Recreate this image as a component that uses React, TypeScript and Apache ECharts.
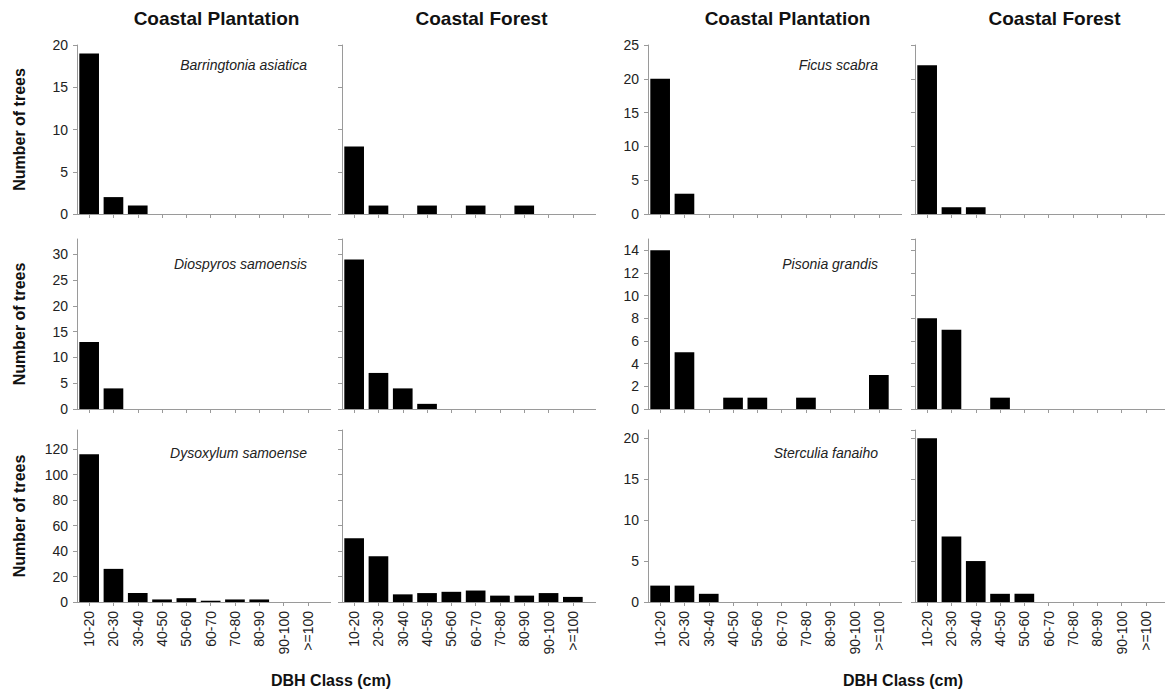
import React, { useEffect, useRef } from "react";
import * as echarts from "echarts";

const categories = ["10-20", "20-30", "30-40", "40-50", "50-60", "60-70", "70-80", "80-90", "90-100", ">=100"];

const barringtoniaPlantation = [19, 2, 1, 0, 0, 0, 0, 0, 0, 0];
const barringtoniaForest = [8, 1, 0, 1, 0, 1, 0, 1, 0, 0];
const ficusPlantation = [20, 3, 0, 0, 0, 0, 0, 0, 0, 0];
const ficusForest = [22, 1, 1, 0, 0, 0, 0, 0, 0, 0];
const diospyrosPlantation = [13, 4, 0, 0, 0, 0, 0, 0, 0, 0];
const diospyrosForest = [29, 7, 4, 1, 0, 0, 0, 0, 0, 0];
const pisoniaPlantation = [14, 5, 0, 1, 1, 0, 1, 0, 0, 3];
const pisoniaForest = [8, 7, 0, 1, 0, 0, 0, 0, 0, 0];
const dysoxylumPlantation = [116, 26, 7, 2, 3, 1, 2, 2, 0, 0];
const dysoxylumForest = [50, 36, 6, 7, 8, 9, 5, 5, 7, 4];
const sterculiaPlantation = [2, 2, 1, 0, 0, 0, 0, 0, 0, 0];
const sterculiaForest = [20, 8, 5, 1, 1, 0, 0, 0, 0, 0];

const columnTitles = ["Coastal Plantation", "Coastal Forest", "Coastal Plantation", "Coastal Forest"];
const yAxisTitle = "Number of trees";
const xAxisTitle = "DBH Class (cm)";

const panels = [
  { row: 0, col: 0, data: barringtoniaPlantation, species: "Barringtonia asiatica", max: 20, interval: 5 },
  { row: 0, col: 1, data: barringtoniaForest, species: "", max: 20, interval: 5 },
  { row: 0, col: 2, data: ficusPlantation, species: "Ficus scabra", max: 25, interval: 5 },
  { row: 0, col: 3, data: ficusForest, species: "", max: 25, interval: 5 },
  { row: 1, col: 0, data: diospyrosPlantation, species: "Diospyros samoensis", max: 33, interval: 5 },
  { row: 1, col: 1, data: diospyrosForest, species: "", max: 33, interval: 5 },
  { row: 1, col: 2, data: pisoniaPlantation, species: "Pisonia grandis", max: 15, interval: 2 },
  { row: 1, col: 3, data: pisoniaForest, species: "", max: 15, interval: 2 },
  { row: 2, col: 0, data: dysoxylumPlantation, species: "Dysoxylum samoense", max: 135, interval: 20 },
  { row: 2, col: 1, data: dysoxylumForest, species: "", max: 135, interval: 20 },
  { row: 2, col: 2, data: sterculiaPlantation, species: "Sterculia fanaiho", max: 21, interval: 5 },
  { row: 2, col: 3, data: sterculiaForest, species: "", max: 21, interval: 5 },
];

const colLefts = [77, 342, 648, 915];
const gridWidth = 243;
const axisOverhang = 11;
const rowTops = [45, 239, 430];
const rowHeights = [169, 170, 172];
const speciesY = [65, 264, 453];

const FONT = "'Liberation Sans', Arial, Helvetica, sans-serif";
const AXIS_COLOR = "#9a9a9a";
const TEXT_COLOR = "#222";

export default function App() {
  const ref = useRef<HTMLDivElement>(null);

  useEffect(() => {
    if (!ref.current) return;
    const chart = echarts.init(ref.current, undefined, { renderer: "svg" });

    const grid = panels.map((p) => ({
      left: colLefts[p.col],
      top: rowTops[p.row],
      width: gridWidth,
      height: rowHeights[p.row],
      containLabel: false,
    }));

    const xAxis = panels.map((p, i) => ({
      type: "category",
      gridIndex: i,
      data: categories,
      boundaryGap: true,
      axisLine: { show: true, lineStyle: { color: AXIS_COLOR, width: 1 } },
      axisTick: { show: true, alignWithLabel: true, length: 4, lineStyle: { color: AXIS_COLOR } },
      axisLabel: {
        show: p.row === 2,
        rotate: 90,
        interval: 0,
        margin: 9,
        fontSize: 14,
        color: TEXT_COLOR,
        fontFamily: FONT,
      },
      splitLine: { show: false },
    }));

    const yAxis = panels.map((p, i) => ({
      type: "value",
      gridIndex: i,
      min: 0,
      max: p.max,
      interval: p.interval,
      axisLine: { show: true, lineStyle: { color: AXIS_COLOR, width: 1 } },
      axisTick: { show: true, length: 4, lineStyle: { color: AXIS_COLOR } },
      axisLabel: {
        show: p.col % 2 === 0,
        showMaxLabel: p.max % p.interval === 0,
        margin: 9,
        fontSize: 14,
        color: TEXT_COLOR,
        fontFamily: FONT,
      },
      splitLine: { show: false },
    }));

    const series = panels.map((p, i) => ({
      type: "bar",
      xAxisIndex: i,
      yAxisIndex: i,
      data: p.data,
      barCategoryGap: "19%",
      itemStyle: { color: "#000", borderColor: "#000", borderWidth: 0 },
      silent: true,
    }));

    const graphic: any[] = [];
    // small extension of each x axis line past the last category, as in the source
    panels.forEach((p) => {
      const yb = rowTops[p.row] + rowHeights[p.row] + 0.5;
      const xr = colLefts[p.col] + gridWidth;
      graphic.push({
        type: "line",
        shape: { x1: xr, y1: yb, x2: xr + axisOverhang, y2: yb },
        style: { stroke: AXIS_COLOR, lineWidth: 1 },
        silent: true,
      });
    });
    columnTitles.forEach((t, c) => {
      graphic.push({
        type: "text",
        x: colLefts[c] + gridWidth / 2 + 18,
        y: 18,
        style: {
          text: t,
          fontSize: 19,
          fontWeight: "bold",
          fontFamily: FONT,
          fill: "#111",
          textAlign: "center",
          textVerticalAlign: "middle",
        },
      });
    });
    rowTops.forEach((top, r) => {
      graphic.push({
        type: "text",
        x: 19,
        y: top + rowHeights[r] / 2,
        rotation: Math.PI / 2,
        style: {
          text: yAxisTitle,
          fontSize: 16,
          fontWeight: "bold",
          fontFamily: FONT,
          fill: "#111",
          textAlign: "center",
          textVerticalAlign: "middle",
        },
      });
    });
    panels.forEach((p) => {
      if (!p.species) return;
      graphic.push({
        type: "text",
        x: colLefts[p.col] + gridWidth - 13,
        y: speciesY[p.row],
        style: {
          text: p.species,
          fontSize: 14,
          fontStyle: "italic",
          fontFamily: FONT,
          fill: TEXT_COLOR,
          textAlign: "right",
          textVerticalAlign: "middle",
        },
      });
    });
    [[0, 1], [2, 3]].forEach(([a, b]) => {
      graphic.push({
        type: "text",
        x: (colLefts[a] + colLefts[b] + gridWidth) / 2,
        y: 680,
        style: {
          text: xAxisTitle,
          fontSize: 16,
          fontWeight: "bold",
          fontFamily: FONT,
          fill: "#111",
          textAlign: "center",
          textVerticalAlign: "middle",
        },
      });
    });

    chart.setOption({
      animation: false,
      backgroundColor: "#fff",
      grid,
      xAxis,
      yAxis,
      series,
      graphic,
    } as any);

    return () => chart.dispose();
  }, []);

  return (
    <div
      ref={ref}
      style={{ position: "fixed", left: 0, top: 0, width: 1165, height: 694, background: "#fff" }}
    />
  );
}
